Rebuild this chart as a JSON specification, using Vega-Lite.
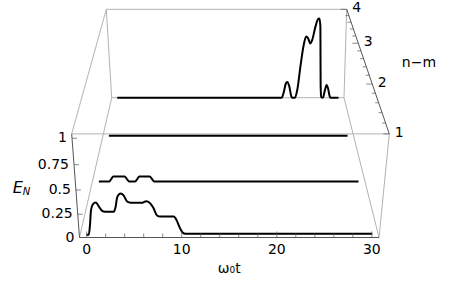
{
  "$schema": "https://vega.github.io/schema/vega-lite/v6.json",
  "width": 458,
  "height": 281,
  "autosize": {"type": "fit", "contains": "padding"},
  "padding": 0,
  "background": "white",
  "config": {"view": {"stroke": null}, "font": "DejaVu Sans"},
  "data": {
    "values": [
      {"g": "e", "id": "fb", "k": "a", "t": -0.75, "E": 0, "nm": 1},
      {"g": "e", "id": "fb", "k": "a", "t": 30.75, "E": 0, "nm": 1},
      {"g": "e", "id": "fl", "k": "a", "t": -0.75, "E": 0, "nm": 1},
      {"g": "e", "id": "fl", "k": "a", "t": -0.75, "E": 1.04, "nm": 1},
      {"g": "e", "id": "tr", "k": "a", "t": 30.75, "E": 1.04, "nm": 1},
      {"g": "e", "id": "tr", "k": "a", "t": 30.75, "E": 1.04, "nm": 4},
      {"g": "e", "id": "ft", "k": "b", "t": -0.75, "E": 1.04, "nm": 1},
      {"g": "e", "id": "ft", "k": "b", "t": 30.75, "E": 1.04, "nm": 1},
      {"g": "e", "id": "fr", "k": "b", "t": 30.75, "E": 0, "nm": 1},
      {"g": "e", "id": "fr", "k": "b", "t": 30.75, "E": 1.04, "nm": 1},
      {"g": "e", "id": "bb", "k": "b", "t": -0.75, "E": 0, "nm": 4},
      {"g": "e", "id": "bb", "k": "b", "t": 30.75, "E": 0, "nm": 4},
      {"g": "e", "id": "bt", "k": "b", "t": -0.75, "E": 1.04, "nm": 4},
      {"g": "e", "id": "bt", "k": "b", "t": 30.75, "E": 1.04, "nm": 4},
      {"g": "e", "id": "bl", "k": "b", "t": -0.75, "E": 0, "nm": 4},
      {"g": "e", "id": "bl", "k": "b", "t": -0.75, "E": 1.04, "nm": 4},
      {"g": "e", "id": "br", "k": "b", "t": 30.75, "E": 0, "nm": 4},
      {"g": "e", "id": "br", "k": "b", "t": 30.75, "E": 1.04, "nm": 4},
      {"g": "e", "id": "cl0", "k": "b", "t": -0.75, "E": 0, "nm": 1},
      {"g": "e", "id": "cl0", "k": "b", "t": -0.75, "E": 0, "nm": 4},
      {"g": "e", "id": "cl1", "k": "b", "t": -0.75, "E": 1.04, "nm": 1},
      {"g": "e", "id": "cl1", "k": "b", "t": -0.75, "E": 1.04, "nm": 4},
      {"g": "e", "id": "cr0", "k": "b", "t": 30.75, "E": 0, "nm": 1},
      {"g": "e", "id": "cr0", "k": "b", "t": 30.75, "E": 0, "nm": 4},

      {"g": "c", "nm": 1, "t": 0, "E": 0.03},
      {"g": "c", "nm": 1, "t": 0.25, "E": 0.03},
      {"g": "c", "nm": 1, "t": 0.45, "E": 0.14},
      {"g": "c", "nm": 1, "t": 0.65, "E": 0.29},
      {"g": "c", "nm": 1, "t": 0.9, "E": 0.355},
      {"g": "c", "nm": 1, "t": 1.2, "E": 0.372},
      {"g": "c", "nm": 1, "t": 1.5, "E": 0.33},
      {"g": "c", "nm": 1, "t": 1.8, "E": 0.285},
      {"g": "c", "nm": 1, "t": 2.1, "E": 0.275},
      {"g": "c", "nm": 1, "t": 3.0, "E": 0.275},
      {"g": "c", "nm": 1, "t": 3.2, "E": 0.32},
      {"g": "c", "nm": 1, "t": 3.45, "E": 0.43},
      {"g": "c", "nm": 1, "t": 3.8, "E": 0.465},
      {"g": "c", "nm": 1, "t": 4.1, "E": 0.445},
      {"g": "c", "nm": 1, "t": 4.45, "E": 0.38},
      {"g": "c", "nm": 1, "t": 4.8, "E": 0.37},
      {"g": "c", "nm": 1, "t": 6.0, "E": 0.37},
      {"g": "c", "nm": 1, "t": 6.4, "E": 0.385},
      {"g": "c", "nm": 1, "t": 6.75, "E": 0.37},
      {"g": "c", "nm": 1, "t": 7.1, "E": 0.32},
      {"g": "c", "nm": 1, "t": 7.45, "E": 0.24},
      {"g": "c", "nm": 1, "t": 7.8, "E": 0.225},
      {"g": "c", "nm": 1, "t": 9.2, "E": 0.225},
      {"g": "c", "nm": 1, "t": 9.5, "E": 0.185},
      {"g": "c", "nm": 1, "t": 9.8, "E": 0.11},
      {"g": "c", "nm": 1, "t": 10.1, "E": 0.055},
      {"g": "c", "nm": 1, "t": 10.4, "E": 0.04},
      {"g": "c", "nm": 1, "t": 30, "E": 0.04},

      {"g": "c", "nm": 2, "t": 0, "E": 0},
      {"g": "c", "nm": 2, "t": 1.2, "E": 0},
      {"g": "c", "nm": 2, "t": 1.45, "E": 0.03},
      {"g": "c", "nm": 2, "t": 1.7, "E": 0.06},
      {"g": "c", "nm": 2, "t": 3.0, "E": 0.06},
      {"g": "c", "nm": 2, "t": 3.25, "E": 0.03},
      {"g": "c", "nm": 2, "t": 3.5, "E": 0},
      {"g": "c", "nm": 2, "t": 4.2, "E": 0},
      {"g": "c", "nm": 2, "t": 4.45, "E": 0.03},
      {"g": "c", "nm": 2, "t": 4.7, "E": 0.06},
      {"g": "c", "nm": 2, "t": 5.9, "E": 0.06},
      {"g": "c", "nm": 2, "t": 6.15, "E": 0.03},
      {"g": "c", "nm": 2, "t": 6.4, "E": 0},
      {"g": "c", "nm": 2, "t": 30, "E": 0},

      {"g": "c", "nm": 3, "t": 0, "E": 0},
      {"g": "c", "nm": 3, "t": 30, "E": 0},

      {"g": "c", "nm": 4, "t": 0, "E": 0},
      {"g": "c", "nm": 4, "t": 22.3, "E": 0},
      {"g": "c", "nm": 4, "t": 22.6, "E": 0.08},
      {"g": "c", "nm": 4, "t": 22.85, "E": 0.18},
      {"g": "c", "nm": 4, "t": 23.05, "E": 0.2},
      {"g": "c", "nm": 4, "t": 23.3, "E": 0.15},
      {"g": "c", "nm": 4, "t": 23.6, "E": 0.02},
      {"g": "c", "nm": 4, "t": 23.7, "E": 0},
      {"g": "c", "nm": 4, "t": 24.1, "E": 0},
      {"g": "c", "nm": 4, "t": 24.4, "E": 0.1},
      {"g": "c", "nm": 4, "t": 24.8, "E": 0.4},
      {"g": "c", "nm": 4, "t": 25.2, "E": 0.65},
      {"g": "c", "nm": 4, "t": 25.5, "E": 0.74},
      {"g": "c", "nm": 4, "t": 25.75, "E": 0.72},
      {"g": "c", "nm": 4, "t": 26.05, "E": 0.66},
      {"g": "c", "nm": 4, "t": 26.3, "E": 0.7},
      {"g": "c", "nm": 4, "t": 26.7, "E": 0.85},
      {"g": "c", "nm": 4, "t": 27.0, "E": 0.93},
      {"g": "c", "nm": 4, "t": 27.2, "E": 0.94},
      {"g": "c", "nm": 4, "t": 27.35, "E": 0.85},
      {"g": "c", "nm": 4, "t": 27.45, "E": 0.5},
      {"g": "c", "nm": 4, "t": 27.55, "E": 0.15},
      {"g": "c", "nm": 4, "t": 27.65, "E": 0.01},
      {"g": "c", "nm": 4, "t": 27.9, "E": 0},
      {"g": "c", "nm": 4, "t": 28.1, "E": 0.08},
      {"g": "c", "nm": 4, "t": 28.35, "E": 0.16},
      {"g": "c", "nm": 4, "t": 28.55, "E": 0.12},
      {"g": "c", "nm": 4, "t": 28.8, "E": 0.02},
      {"g": "c", "nm": 4, "t": 28.9, "E": 0},
      {"g": "c", "nm": 4, "t": 30, "E": 0},

      {"g": "tt", "maj": 1, "t": 0, "E": 0, "nm": 1},
      {"g": "tt", "maj": 0, "t": 2, "E": 0, "nm": 1},
      {"g": "tt", "maj": 0, "t": 4, "E": 0, "nm": 1},
      {"g": "tt", "maj": 0, "t": 6, "E": 0, "nm": 1},
      {"g": "tt", "maj": 0, "t": 8, "E": 0, "nm": 1},
      {"g": "tt", "maj": 1, "t": 10, "E": 0, "nm": 1},
      {"g": "tt", "maj": 0, "t": 12, "E": 0, "nm": 1},
      {"g": "tt", "maj": 0, "t": 14, "E": 0, "nm": 1},
      {"g": "tt", "maj": 0, "t": 16, "E": 0, "nm": 1},
      {"g": "tt", "maj": 0, "t": 18, "E": 0, "nm": 1},
      {"g": "tt", "maj": 1, "t": 20, "E": 0, "nm": 1},
      {"g": "tt", "maj": 0, "t": 22, "E": 0, "nm": 1},
      {"g": "tt", "maj": 0, "t": 24, "E": 0, "nm": 1},
      {"g": "tt", "maj": 0, "t": 26, "E": 0, "nm": 1},
      {"g": "tt", "maj": 0, "t": 28, "E": 0, "nm": 1},
      {"g": "tt", "maj": 1, "t": 30, "E": 0, "nm": 1},

      {"g": "te", "t": -0.75, "E": 0, "nm": 1},
      {"g": "te", "t": -0.75, "E": 0.25, "nm": 1},
      {"g": "te", "t": -0.75, "E": 0.5, "nm": 1},
      {"g": "te", "t": -0.75, "E": 0.75, "nm": 1},
      {"g": "te", "t": -0.75, "E": 1, "nm": 1},

      {"g": "tn", "maj": 1, "t": 30.75, "E": 1.04, "nm": 1},
      {"g": "tn", "maj": 0, "t": 30.75, "E": 1.04, "nm": 1.2},
      {"g": "tn", "maj": 0, "t": 30.75, "E": 1.04, "nm": 1.4},
      {"g": "tn", "maj": 0, "t": 30.75, "E": 1.04, "nm": 1.6},
      {"g": "tn", "maj": 0, "t": 30.75, "E": 1.04, "nm": 1.8},
      {"g": "tn", "maj": 1, "t": 30.75, "E": 1.04, "nm": 2},
      {"g": "tn", "maj": 0, "t": 30.75, "E": 1.04, "nm": 2.2},
      {"g": "tn", "maj": 0, "t": 30.75, "E": 1.04, "nm": 2.4},
      {"g": "tn", "maj": 0, "t": 30.75, "E": 1.04, "nm": 2.6},
      {"g": "tn", "maj": 0, "t": 30.75, "E": 1.04, "nm": 2.8},
      {"g": "tn", "maj": 1, "t": 30.75, "E": 1.04, "nm": 3},
      {"g": "tn", "maj": 0, "t": 30.75, "E": 1.04, "nm": 3.2},
      {"g": "tn", "maj": 0, "t": 30.75, "E": 1.04, "nm": 3.4},
      {"g": "tn", "maj": 0, "t": 30.75, "E": 1.04, "nm": 3.6},
      {"g": "tn", "maj": 0, "t": 30.75, "E": 1.04, "nm": 3.8},
      {"g": "tn", "maj": 1, "t": 30.75, "E": 1.04, "nm": 4},

      {"g": "lt", "lab": "0", "t": 0, "E": 0, "nm": 1},
      {"g": "lt", "lab": "10", "t": 10, "E": 0, "nm": 1},
      {"g": "lt", "lab": "20", "t": 20, "E": 0, "nm": 1},
      {"g": "lt", "lab": "30", "t": 30, "E": 0, "nm": 1},

      {"g": "le", "lab": "0", "t": -0.75, "E": 0, "nm": 1},
      {"g": "le", "lab": "0.25", "t": -0.75, "E": 0.25, "nm": 1},
      {"g": "le", "lab": "0.5", "t": -0.75, "E": 0.5, "nm": 1},
      {"g": "le", "lab": "0.75", "t": -0.75, "E": 0.75, "nm": 1},
      {"g": "le", "lab": "1", "t": -0.75, "E": 1, "nm": 1},

      {"g": "ln", "lab": "1", "t": 30.75, "E": 1.04, "nm": 1},
      {"g": "ln", "lab": "2", "t": 30.75, "E": 1.04, "nm": 2},
      {"g": "ln", "lab": "3", "t": 30.75, "E": 1.04, "nm": 3},
      {"g": "ln", "lab": "4", "t": 30.75, "E": 1.04, "nm": 4},

      {"g": "ttl", "lab": "ω₀t", "t": 15, "E": 0, "nm": 1},
      {"g": "ttn", "lab": "n−m", "t": 30.75, "E": 1.04, "nm": 2.5},
      {"g": "tte", "lab": "E", "t": -0.75, "E": 0.52, "nm": 1},
      {"g": "tts", "lab": "N", "t": -0.75, "E": 0.52, "nm": 1}
    ]
  },
  "transform": [
    {"calculate": "(datum.t + 0.75) / 31.5", "as": "u"},
    {"calculate": "datum.E / 1.04", "as": "vv"},
    {"calculate": "datum.vv / ((1 - datum.vv) * 1.092 + datum.vv)", "as": "G"},
    {"calculate": "(datum.nm - 1) / 3", "as": "w"},
    {"calculate": "datum.w / ((1 - datum.w) * 0.75 + datum.w)", "as": "F"},
    {"calculate": "(1 - datum.F) * ((1 - datum.G) * (79.5 + 299.5 * datum.u) + datum.G * (71.7 + 317.6 * datum.u)) + datum.F * ((1 - datum.G) * (111.7 + 232.3 * datum.u) + datum.G * (106.3 + 240.4 * datum.u))", "as": "px"},
    {"calculate": "(1 - datum.F) * (237.5 - 103.6 * datum.G) + datum.F * (97.7 - 88.4 * datum.G)", "as": "py"}
  ],
  "encoding": {
    "x": {"field": "px", "type": "quantitative", "scale": {"domain": [0, 458], "nice": false, "zero": false}, "axis": null},
    "y": {"field": "py", "type": "quantitative", "scale": {"domain": [0, 281], "nice": false, "zero": false, "reverse": true}, "axis": null}
  },
  "layer": [
    {
      "transform": [{"filter": "datum.g == 'e' && datum.k == 'b'"}],
      "mark": {"type": "line", "color": "#b3b3b3", "strokeWidth": 1},
      "encoding": {"detail": {"field": "id"}}
    },
    {
      "transform": [{"filter": "datum.g == 'c'"}],
      "mark": {"type": "line", "color": "#000000", "strokeWidth": 2, "interpolate": "monotone"},
      "encoding": {"detail": {"field": "nm"}}
    },
    {
      "transform": [{"filter": "datum.g == 'e' && datum.k == 'a'"}],
      "mark": {"type": "line", "color": "#555555", "strokeWidth": 1},
      "encoding": {"detail": {"field": "id"}}
    },
    {
      "transform": [{"filter": "datum.g == 'tt' && datum.maj == 1"}],
      "mark": {"type": "tick", "orient": "vertical", "size": 6, "thickness": 1, "yOffset": -3, "color": "#555555"}
    },
    {
      "transform": [{"filter": "datum.g == 'tt' && datum.maj == 0"}],
      "mark": {"type": "tick", "orient": "vertical", "size": 4, "thickness": 1, "yOffset": -2, "color": "#555555"}
    },
    {
      "transform": [{"filter": "datum.g == 'te'"}],
      "mark": {"type": "tick", "orient": "horizontal", "size": 5, "thickness": 1, "xOffset": 2.5, "color": "#555555"}
    },
    {
      "transform": [{"filter": "datum.g == 'tn' && datum.maj == 1"}],
      "mark": {"type": "tick", "orient": "horizontal", "size": 6, "thickness": 1, "xOffset": -3, "color": "#555555"}
    },
    {
      "transform": [{"filter": "datum.g == 'tn' && datum.maj == 0"}],
      "mark": {"type": "tick", "orient": "horizontal", "size": 3.5, "thickness": 1, "xOffset": -1.75, "color": "#555555"}
    },
    {
      "transform": [{"filter": "datum.g == 'lt'"}],
      "mark": {"type": "text", "font": "DejaVu Sans", "fontSize": 14, "align": "center", "baseline": "middle", "dy": 12.5, "color": "#000000"},
      "encoding": {"text": {"field": "lab"}}
    },
    {
      "transform": [{"filter": "datum.g == 'le'"}],
      "mark": {"type": "text", "font": "DejaVu Sans", "fontSize": 14, "align": "right", "baseline": "middle", "dx": -5, "color": "#000000"},
      "encoding": {"text": {"field": "lab"}}
    },
    {
      "transform": [{"filter": "datum.g == 'ln'"}],
      "mark": {"type": "text", "font": "DejaVu Sans", "fontSize": 14, "align": "center", "baseline": "middle", "dx": 10, "dy": -1, "color": "#000000"},
      "encoding": {"text": {"field": "lab"}}
    },
    {
      "transform": [{"filter": "datum.g == 'ttl'"}],
      "mark": {"type": "text", "font": "DejaVu Sans", "fontSize": 14, "align": "center", "baseline": "alphabetic", "dy": 35, "color": "#000000"},
      "encoding": {"text": {"field": "lab"}}
    },
    {
      "transform": [{"filter": "datum.g == 'ttn'"}],
      "mark": {"type": "text", "font": "DejaVu Sans", "fontSize": 14, "align": "center", "baseline": "middle", "dx": 54, "color": "#000000"},
      "encoding": {"text": {"field": "lab"}}
    },
    {
      "transform": [{"filter": "datum.g == 'tte'"}],
      "mark": {"type": "text", "font": "DejaVu Sans", "fontSize": 16, "fontStyle": "italic", "align": "left", "baseline": "alphabetic", "dx": -63, "dy": 5.5, "color": "#000000"},
      "encoding": {"text": {"field": "lab"}}
    },
    {
      "transform": [{"filter": "datum.g == 'tts'"}],
      "mark": {"type": "text", "font": "DejaVu Sans", "fontSize": 10, "fontStyle": "italic", "align": "left", "baseline": "alphabetic", "dx": -53, "dy": 7.5, "color": "#000000"},
      "encoding": {"text": {"field": "lab"}}
    }
  ]
}
